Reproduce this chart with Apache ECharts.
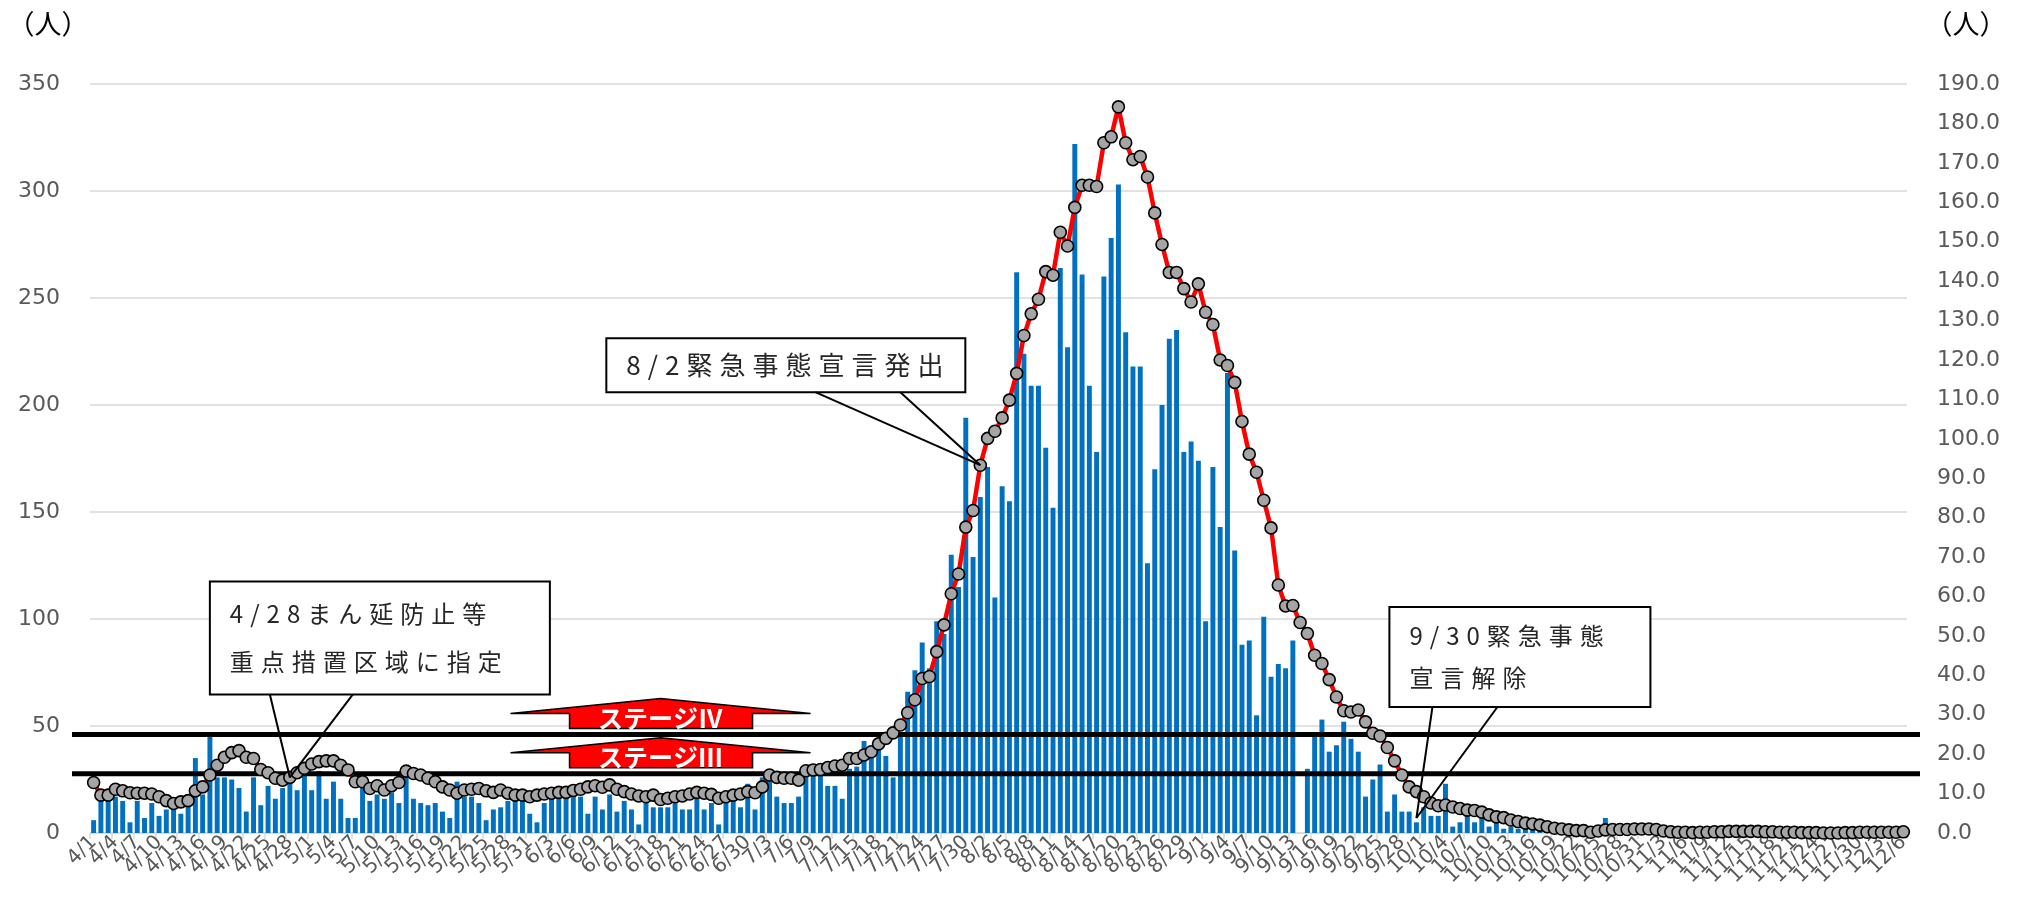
<!DOCTYPE html>
<html><head><meta charset="utf-8">
<script src="https://cdn.jsdelivr.net/npm/echarts/dist/echarts.min.js"></script>
<style>html,body{margin:0;padding:0;background:#fff}#c{width:2023px;height:907px}</style>
</head><body><div id="c"></div>
<script>
// ---- categories (4/1 .. 12/6) ----
const monthDays = [[4,30],[5,31],[6,30],[7,31],[8,31],[9,30],[10,31],[11,30],[12,6]];
const categories = [];
monthDays.forEach(([m, n]) => { for (let d = 1; d <= n; d++) categories.push(m + '/' + d); });
const labelStep = 3; // a tick label every third day

// ---- daily new cases (left axis, 人) ----
const dailyCases = [
  6,15,15,17,15,5,15,7,14,8,
  11,11,9,13,35,18,45,26,26,25,
  21,10,26,13,22,16,21,24,20,32,
  20,29,16,24,16,7,7,21,15,18,
  16,19,14,31,16,14,13,14,10,7,
  24,17,17,14,6,11,12,15,15,15,
  9,5,14,16,17,17,18,17,9,17,
  11,18,10,15,11,4,14,12,12,12,
  14,11,11,16,11,14,4,16,16,12,
  23,11,26,28,17,14,14,17,28,30,
  31,22,22,16,30,31,43,39,40,36,
  26,45,66,76,89,77,99,93,130,115,
  194,129,157,171,110,162,155,262,224,209,
  209,180,152,264,227,322,261,209,178,260,
  278,303,234,218,218,126,170,200,231,235,
  178,183,174,99,171,143,215,132,88,90,
  55,101,73,79,77,90,0,30,47,53,
  38,41,52,44,38,17,25,32,10,18,
  10,10,5,12,8,8,23,3,5,10,
  5,7,3,5,2,3,2,2,2,1,
  1,2,1,1,0,1,0,1,7,1,
  1,0,1,1,0,1,0,0,1,0,
  1,0,0,1,0,0,1,0,0,1,
  0,0,1,0,0,0,1,0,0,0,
  0,1,0,0,0,1,0,0,1,1
];

// ---- 7-day average (right axis, 人) ----
const weeklyAvg = [
  12.8,9.6,9.6,11.1,10.7,10.2,10.1,10.1,9.9,9.2,
  8.2,7.5,7.9,8.2,10.7,11.7,14.7,17.2,19.2,20.4,
  20.9,19.2,18.9,16.1,15.3,13.9,13.4,14.1,15.3,16.4,
  17.5,18.1,18.3,18.3,17.2,16.0,13.0,13.0,11.3,12.0,
  10.9,12.0,12.8,15.7,15.1,14.7,13.9,13.0,11.7,10.9,
  10.1,10.9,11.1,11.3,10.7,10.3,10.9,10.1,9.6,9.6,
  9.2,9.6,9.9,10.1,10.3,10.3,10.8,11.1,11.7,12.0,
  11.6,12.2,11.1,10.5,9.9,9.4,9.2,9.6,8.5,8.8,
  9.2,9.4,9.9,10.3,10.1,9.8,8.8,9.2,9.6,9.9,
  10.5,10.2,11.7,14.7,14.1,13.9,13.9,13.4,15.8,16.0,
  16.1,16.6,17.0,17.2,18.9,18.9,19.8,20.6,22.6,24.0,
  25.4,27.4,30.5,33.8,39.2,39.7,46.0,52.8,60.7,65.7,
  77.6,81.8,93.3,100.1,101.9,105.3,109.8,116.6,126.2,131.7,
  135.4,142.4,141.5,152.4,148.9,158.7,164.3,164.3,164.0,175.1,
  176.6,184.2,175.1,170.8,171.6,166.4,157.3,149.3,142.2,142.2,
  138.1,134.7,139.3,132.1,129.0,120.0,118.6,114.3,104.4,96.1,
  91.5,84.4,77.4,62.9,57.6,57.7,53.4,50.6,45.1,43.0,
  38.9,34.5,31.0,30.7,31.2,28.2,25.3,24.6,21.7,18.3,
  14.7,11.7,10.5,9.2,7.6,6.9,7.1,6.6,6.2,5.8,
  5.7,5.3,4.6,4.1,3.9,3.3,2.9,2.5,2.3,2.0,
  1.6,1.2,1.0,0.8,0.6,0.6,0.2,0.5,0.8,0.9,
  0.9,0.9,1.0,1.0,1.0,0.9,0.5,0.3,0.2,0.2,
  0.1,0.2,0.2,0.3,0.3,0.4,0.4,0.4,0.4,0.4,
  0.3,0.3,0.2,0.2,0.2,0.1,0.1,0.1,0.0,0.0,
  0.0,0.1,0.1,0.2,0.2,0.2,0.2,0.2,0.2,0.3
];

// ---- axis ranges / thresholds / notes ----
const leftAxis = { min: 0, max: 350, interval: 50 };
const rightAxis = { min: 0, max: 190, interval: 10 };
const stageLevels = [ { name: 'ステージⅣ', value: 25 }, { name: 'ステージⅢ', value: 15 } ];
const notes = [
  { lines: ['4/28まん延防止等', '重点措置区域に指定'], date: '4/28' },
  { lines: ['8/2緊急事態宣言発出'], date: '8/1' },
  { lines: ['9/30緊急事態', '宣言解除'], date: '9/30' }
];

const GRAY = '#595959';
const NUM = '"DejaVu Sans", "Noto Sans", sans-serif';
const CJK = '"Noto Sans CJK JP", "Noto Sans", sans-serif';
const chart = echarts.init(document.getElementById('c'));
chart.setOption({
  animation: false,
  backgroundColor: '#fff',
  grid: { left: 90, right: 116, top: 84, bottom: 74, containLabel: false },
  xAxis: {
    type: 'category', data: categories, boundaryGap: true,
    axisLine: { lineStyle: { color: '#d9d9d9', width: 1.5 } },
    axisTick: { show: true, interval: labelStep - 1, length: 6, lineStyle: { color: '#d9d9d9', width: 1.5 } },
    axisLabel: { interval: 0, rotate: 45, fontSize: 20, color: GRAY, margin: 6, fontFamily: NUM,
      formatter: (v, i) => (i % labelStep === 0 ? v : '') }
  },
  yAxis: [
    { type: 'value', min: leftAxis.min, max: leftAxis.max, interval: leftAxis.interval,
      axisLine: { show: false }, axisTick: { show: false },
      splitLine: { lineStyle: { color: '#d9d9d9', width: 1.5 } },
      axisLabel: { fontSize: 22, color: GRAY, margin: 30, fontFamily: NUM } },
    { type: 'value', min: rightAxis.min, max: rightAxis.max, interval: rightAxis.interval,
      axisLine: { show: false }, axisTick: { show: false }, splitLine: { show: false },
      axisLabel: { fontSize: 22, color: GRAY, margin: 30, fontFamily: NUM,
        formatter: v => v.toFixed(1) } }
  ],
  series: [
    { type: 'bar', name: '新規陽性者数', data: dailyCases, yAxisIndex: 0, barWidth: '68%',
      itemStyle: { color: '#0070C0' }, z: 2 },
    { type: 'line', name: '7日間平均', data: weeklyAvg, yAxisIndex: 1, z: 5,
      symbol: 'circle', symbolSize: 12, showAllSymbol: true,
      lineStyle: { color: '#ff0000', width: 4.5 },
      itemStyle: { color: '#a5a5a5', borderColor: '#000', borderWidth: 1.6 } }
  ]
});

const rect = chart.getModel().getComponent('grid').coordinateSystem.getRect();
const xp = i => chart.convertToPixel({ xAxisIndex: 0 }, i);
const yR = v => chart.convertToPixel({ yAxisIndex: 1 }, v);
const yL = v => chart.convertToPixel({ yAxisIndex: 0 }, v);
const idx = d => categories.indexOf(d);
const g = [];

// unit labels
[48, rect.x + rect.width + 59].forEach(x => g.push({ type: 'text', x: x, y: 24, z: 20,
  style: { text: '（人）', fill: '#000', fontSize: 27, fontFamily: CJK, align: 'center', verticalAlign: 'middle' } }));

// stage threshold lines + arrows
const arrowCx = xp(idx('6/18'));
stageLevels.forEach((s) => {
  const y = yR(s.value);
  g.push({ type: 'line', z: 3, shape: { x1: rect.x - 18, y1: y, x2: rect.x + rect.width + 13, y2: y },
    style: { stroke: '#000', lineWidth: 5 } });
  const bb = y - 6, bt = y - 21, ap = y - 36;
  g.push({ type: 'polygon', z: 4, shape: { points: [
      [arrowCx - 150, bt], [arrowCx, ap], [arrowCx + 150, bt], [arrowCx + 92, bt],
      [arrowCx + 92, bb], [arrowCx - 91, bb], [arrowCx - 91, bt]] },
    style: { fill: '#ff0000', stroke: '#000', lineWidth: 1.5 } });
  g.push({ type: 'text', z: 5, x: arrowCx, y: y - 16, style: { text: s.name, fill: '#fff',
    fontSize: 25, fontWeight: 'bold', fontFamily: CJK, align: 'center', verticalAlign: 'middle' } });
});

// annotation callouts (own layer so that the text can be letter-spaced)
function callout(note, tip, box, bases, fs) {
  g.push({ type: 'rect', zlevel: 1, z: 10, shape: { x: box[0], y: box[1], width: box[2], height: box[3] },
    style: { fill: '#fff', stroke: '#000', lineWidth: 2 } });
  const n = note.lines.length;
  note.lines.forEach((t, k) => {
    const cy = box[1] + box[3] / (n * 2) * (2 * k + 1) + (n > 1 ? (k === 0 ? 4 : -4) : 0);
    g.push({ type: 'text', zlevel: 1, z: 11, x: box[0] + 20, y: cy,
      style: { text: t, fill: '#262626', fontSize: fs, fontFamily: CJK, align: 'left', verticalAlign: 'middle' } });
  });
  bases.forEach(bx => g.push({ type: 'line', zlevel: 1, z: 10,
    shape: { x1: bx, y1: box[1] + box[3], x2: tip[0], y2: tip[1] }, style: { stroke: '#000', lineWidth: 2 } }));
}
const t1 = [xp(idx('4/28')), yR(weeklyAvg[idx('4/28')])];
callout(notes[0], t1, [t1[0] - 80, t1[1] - 196, 340, 113], [t1[0] - 20, t1[0] + 63], 24);
const t2 = [xp(idx('8/1')), yR(weeklyAvg[idx('8/1')])];
callout(notes[1], t2, [t2[0] - 374, t2[1] - 127, 359, 54], [t2[0] - 165, t2[0] - 80], 26);
const t3 = [xp(idx('9/30')), yL(7)];
callout(notes[2], t3, [t3[0] - 27, t3[1] - 211, 261, 100], [t3[0] + 16, t3[0] + 81], 24);

chart.setOption({ graphic: g });

// widen the letter spacing of the callout text layer like the original text boxes
try {
  const zr = chart.getZr();
  const layer = zr.painter.getLayer && zr.painter.getLayer(1);
  if (layer && layer.ctx && 'letterSpacing' in layer.ctx) {
    layer.ctx.letterSpacing = '7px';
    layer.__dirty = true;
    zr.painter.refresh(true);
  }
} catch (e) {}
</script></body></html>
